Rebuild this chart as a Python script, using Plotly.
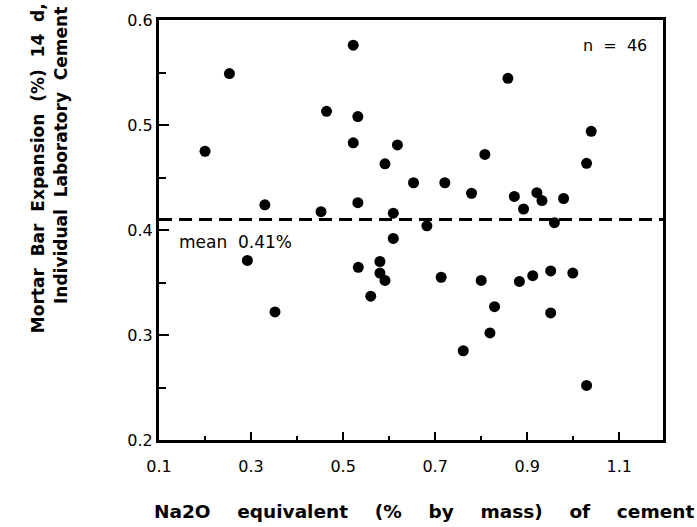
import plotly.graph_objects as go

# Na2O equivalent (% by mass) of cement
na2o = [0.200, 0.253, 0.330, 0.452, 0.464, 0.522, 0.532, 0.522, 0.532, 0.591,
        0.618, 0.609, 0.858, 1.039, 1.029, 0.808, 0.653, 0.721, 0.779, 0.872,
        0.892, 0.921, 0.932, 0.979, 0.959, 0.682, 0.292, 0.352, 0.609, 0.533,
        0.580, 0.580, 0.591, 0.560, 0.713, 0.800, 0.829, 0.819, 0.761, 0.883,
        0.912, 0.951, 0.999, 0.951, 1.029]
# Mortar bar expansion (%) at 14 d
expansion = [0.475, 0.549, 0.424, 0.4175, 0.513, 0.576, 0.508, 0.483, 0.426, 0.463,
             0.481, 0.416, 0.5445, 0.494, 0.4635, 0.472, 0.445, 0.445, 0.435, 0.432,
             0.420, 0.4355, 0.428, 0.430, 0.407, 0.404, 0.371, 0.322, 0.392, 0.3645,
             0.370, 0.359, 0.352, 0.337, 0.355, 0.352, 0.327, 0.302, 0.285, 0.351,
             0.3565, 0.361, 0.359, 0.321, 0.252]
mean_value = 0.41
n_label = "n  =  46"
mean_label = "mean  0.41%"
x_ticks = [0.1, 0.3, 0.5, 0.7, 0.9, 1.1]
y_ticks = [0.2, 0.3, 0.4, 0.5, 0.6]

FONT = "DejaVu Sans"
NB = "\u00a0"
THIN = "\u2009"

fig = go.Figure()
fig.add_trace(go.Scatter(
    x=na2o, y=expansion, mode="markers",
    marker=dict(color="black", size=11, line=dict(width=0)),
    showlegend=False, hoverinfo="x+y"))

fig.add_shape(type="line", xref="paper", x0=0, x1=1, yref="y",
              y0=mean_value, y1=mean_value,
              line=dict(color="black", width=3, dash="13px,7px"))

fig.add_annotation(x=0.139, y=0.389, xref="x", yref="y", text=mean_label,
                   showarrow=False, xanchor="left", yanchor="middle",
                   font=dict(family=FONT, size=17, color="black"))
fig.add_annotation(x=1.165, y=0.576, xref="x", yref="y", text=n_label,
                   showarrow=False, xanchor="right", yanchor="middle",
                   font=dict(family=FONT, size=16, color="black"))

# axis titles
line1 = (" " + NB).join(["Mortar", "Bar", "Expansion", "(%)", "14", "d,"])
line2 = (" " + NB).join(["Individual", "Laboratory", "Cement"])
xtitle = (" " + NB * 2 + THIN * 2).join(["Na2O", "equivalent", "(%", "by", "mass)", "of", "cement"])

fig.add_annotation(x=-0.240, y=1.045, xref="paper", yref="paper", text="<b>" + line1 + "</b>",
                   textangle=-90, showarrow=False, xanchor="center", yanchor="top",
                   font=dict(family=FONT, size=17, color="black"))
fig.add_annotation(x=-0.194, y=1.035, xref="paper", yref="paper", text="<b>" + line2 + "</b>",
                   textangle=-90, showarrow=False, xanchor="center", yanchor="top",
                   font=dict(family=FONT, size=17, color="black"))
fig.add_annotation(x=0.525, y=-0.171, xref="paper", yref="paper", text="<b>" + xtitle + "</b>",
                   showarrow=False, xanchor="center", yanchor="middle",
                   font=dict(family=FONT, size=18.5, color="black"))

axis_common = dict(showline=True, linewidth=3, linecolor="black", mirror=True,
                   showgrid=False, zeroline=False, ticks="inside", tickwidth=2,
                   tickcolor="black", tickfont=dict(family=FONT, size=16, color="black"))

fig.update_xaxes(range=[0.1, 1.195], tickvals=x_ticks, ticktext=[f"{v:.1f}" for v in x_ticks],
                 ticklen=8, ticklabelstandoff=10,
                 minor=dict(dtick=0.1, tick0=0.1, ticks="inside", ticklen=4, tickwidth=2,
                            tickcolor="black"),
                 **axis_common)
fig.update_yaxes(range=[0.2, 0.6], tickvals=y_ticks, ticktext=[f"{v:.1f}" for v in y_ticks],
                 ticklen=10, ticklabelstandoff=0,
                 minor=dict(dtick=0.05, tick0=0.2, ticks="inside", ticklen=7, tickwidth=2,
                            tickcolor="black"),
                 **axis_common)

fig.update_layout(width=697, height=527, margin=dict(l=159, r=34, t=20, b=87),
                  paper_bgcolor="white", plot_bgcolor="white",
                  font=dict(family=FONT, color="black"))

fig.write_html("out.html", config={"displayModeBar": False},
               post_script="document.body.style.margin='0px';document.body.style.padding='0px';")
